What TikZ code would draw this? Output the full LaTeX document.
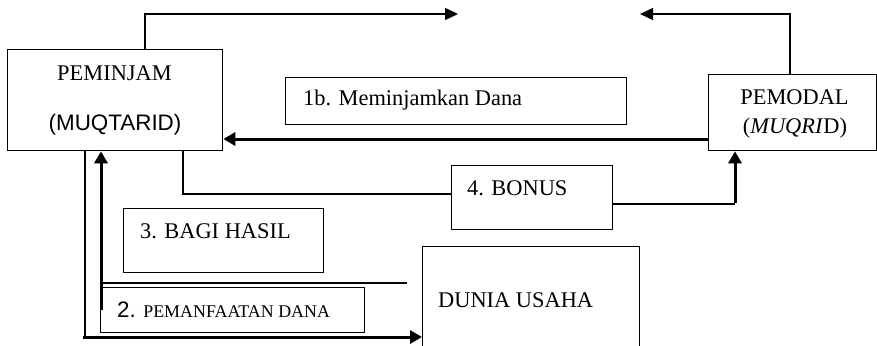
\documentclass[tikz,border=0pt]{standalone}
\usepackage{fontspec}
\setmainfont{Liberation Serif}
\setsansfont{Liberation Sans}
\usetikzlibrary{arrows.meta}
\begin{document}
\begin{tikzpicture}[x=1pt,y=-1pt,
  box/.style={draw, line width=1.3pt, inner sep=0pt, anchor=north west},
  txt/.style={inner sep=0pt, font=\fontsize{22.4}{26}\selectfont},
  thinline/.style={line width=1.5pt},
  thickline/.style={line width=3pt},
  tip/.style={-{Triangle[length=13pt,width=12pt]}},
  thicktip/.style={thickline, -{Triangle[length=12pt,width=13pt]}}]
\useasboundingbox (0,0) rectangle (877,345);

% boxes
\node[box, minimum width=215pt, minimum height=101pt] (peminjam) at (7,49) {};
\node[box, minimum width=341pt, minimum height=47pt] (dana) at (285,77) {};
\node[box, minimum width=168pt, minimum height=76pt] (pemodal) at (708,74) {};
\node[box, minimum width=161pt, minimum height=64pt] (bonus) at (451,165) {};
\node[box, minimum width=200pt, minimum height=64pt] (bagi) at (123,208) {};
\node[box, minimum width=264pt, minimum height=45pt] (manfaat) at (100,287) {};
\node[box, minimum width=217pt, minimum height=110pt] (dunia) at (422,246) {};

% labels
\node[txt, anchor=base] (tpeminjam) at (114.5,80) {PEMINJAM};
\node[txt, anchor=base, font=\sffamily\fontsize{22.4}{26}\selectfont] (tmuqtarid) at (115,130) {(MUQTARID)};
\node[txt, anchor=base west] (tdana) at (303,105) {1b. Meminjamkan Dana};
\node[txt, anchor=base] (tpemodal) at (794.5,104) {PEMODAL};
\node[txt, anchor=base] (tmuqrid) at (795,133) {(\textit{MUQRI}D)};
\node[txt, anchor=base west] (tbonus) at (467,195) {4. BONUS};
\node[txt, anchor=base west] (tbagi) at (140,238) {3. BAGI HASIL};
\node[txt, anchor=base west] (tmanfaat) at (117,317) {{\sffamily 2.} {\fontsize{17.9}{20}\selectfont PEMANFAATAN DANA}};
\node[txt, anchor=base west] (tdunia) at (438,307) {DUNIA USAHA};

% routing points
\coordinate (tl) at (145,14);
\coordinate (tlend) at (458,14);
\coordinate (tr) at (790,14);
\coordinate (trend) at (640,14);
\coordinate (mid) at (0,139);
\coordinate (b1) at (183,194);
\coordinate (b2) at (735,204);
\coordinate (d1) at (85,337);
\coordinate (u1) at (101,310);
\coordinate (h1) at (101,283);
\coordinate (h2) at (407,283);

% top arrows
\draw[thinline, tip] (tl |- peminjam.north) -- (tl) -- (tlend);
\draw[thinline, tip] (tr |- pemodal.north) -- (tr) -- (trend);

% 1b: funds from lender to borrower
\draw[thicktip] (pemodal.west |- mid) -- (peminjam.east |- mid);

% 4: bonus back to lender
\draw[thinline] (b1 |- peminjam.south) |- (bonus.west |- b1);
\draw[thinline] (bonus.east |- b2) -- (b2);
\draw[thicktip] ([yshift=1pt]b2) -- (b2 |- pemodal.south);

% 2: use of funds into business
\draw[thinline] (d1 |- peminjam.south) -- (d1);
\draw[thicktip] ([xshift=-2pt]d1) -- (dunia.west |- d1);

% 3: profit sharing back to borrower
\draw[thicktip] (u1) -- (u1 |- peminjam.south);
\draw[thinline] (h1) -- (h2);
\end{tikzpicture}
\end{document}
